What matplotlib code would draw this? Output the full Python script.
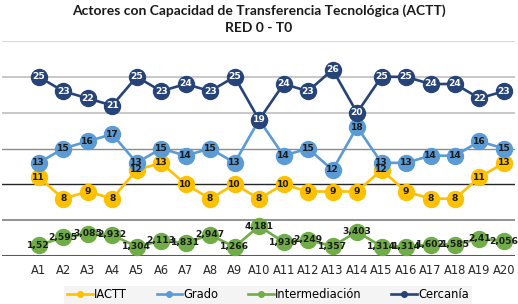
import matplotlib.pyplot as plt

# data
labels = ["A%d" % i for i in range(1, 21)]
iactt = [11, 8, 9, 8, 12, 13, 10, 8, 10, 8, 10, 9, 9, 9, 12, 9, 8, 8, 11, 13]
grado = [13, 15, 16, 17, 13, 15, 14, 15, 13, 19, 14, 15, 12, 18, 13, 13, 14, 14, 16, 15]
intermed = [1.52, 2.595, 3.085, 2.932, 1.304, 2.113, 1.831, 2.947, 1.266, 4.181,
            1.936, 2.249, 1.357, 3.403, 1.314, 1.314, 1.602, 1.585, 2.41, 2.056]
cercania = [25, 23, 22, 21, 25, 23, 24, 23, 25, 19, 24, 23, 26, 20, 25, 25, 24, 24, 22, 23]

series = [
    ("IACTT", iactt, "#FFC000", "#1a1a1a"),
    ("Grado", grado, "#5B9BD5", "#1a1a1a"),
    ("Intermediación", intermed, "#70AD47", "#1a1a1a"),
    ("Cercanía", cercania, "#264478", "white"),
]


def fmt(v):
    s = ("%g" % v)
    return s.replace(".", ",")


fig = plt.figure(figsize=(5.18, 3.04), dpi=100)
ax = fig.add_axes([2 / 518, 48 / 304, 513 / 518, 215 / 304])

# horizontal gridlines
grid = [(0, "#595959", 2.2), (5, "#7f7f7f", 1.2), (10, "#262626", 1.0),
        (15, "#8c8c8c", 1.0), (20, "#bfbfbf", 1.2), (25, "#bfbfbf", 1.2),
        (30, "#d0d0d0", 1.2)]
for y, c, lw in grid:
    ax.axhline(y, color=c, lw=lw, zorder=0)

x = list(range(len(labels)))
for name, vals, color, tcolor in series:
    ax.plot(x, vals, color=color, lw=1.9, marker="o", ms=11.5,
            mec=color, mfc=color, label=name, zorder=2)
for name, vals, color, tcolor in series:
    for xi, v in zip(x, vals):
        ax.text(xi, v, fmt(v), ha="center", va="center", fontsize=6.6,
                fontweight="bold", color=tcolor, zorder=3)

ax.set_xlim(-1.5, 19.45)
ax.set_ylim(0, 30)
ax.set_yticks([])
ax.set_xticks(x)
ax.set_xticklabels(labels, fontsize=8.3, color="#262626")
ax.tick_params(axis="x", length=0, pad=6)
for s in ax.spines.values():
    s.set_visible(False)

fig.text(0.5, 1 - 11 / 304, "Actores con Capacidad de Transferencia Tecnológica (ACTT)",
         ha="center", va="center", fontsize=10, fontweight="bold", family="Lato",
         color="#1a1a1a")
fig.text(0.5, 1 - 28 / 304, "RED 0 - T0", ha="center", va="center",
         fontsize=10, fontweight="bold", family="Lato", color="#1a1a1a")

leg = fig.legend(loc="center", bbox_to_anchor=(268 / 518, 1 - 295 / 304), ncol=4,
                 fontsize=8.3, frameon=True, facecolor="#f2f2f2", edgecolor="none",
                 fancybox=False, handlelength=2.2, handletextpad=0.1,
                 columnspacing=2.6, markerscale=0.35, borderpad=0.25)

fig.savefig("out.png", dpi=100)
